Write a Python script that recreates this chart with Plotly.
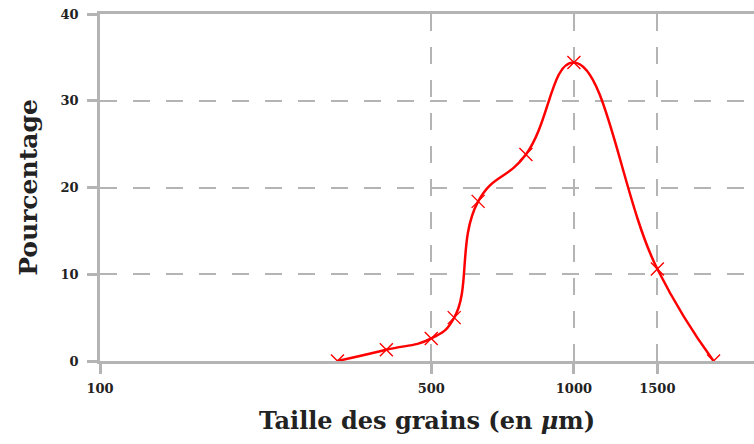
import plotly.graph_objects as go

# Grain size distribution (sieve analysis)
taille_um = [317, 402, 500, 559, 628, 792, 1000, 1500, 1971]
pourcentage = [0, 1.3, 2.6, 5.0, 18.4, 23.8, 34.4, 10.6, 0]

x_ticks = [100, 500, 1000, 1500]
y_ticks = [0, 10, 20, 30, 40]

GRAY = "#b4b4b4"
RED = "#ff0000"
FONT = "DejaVu Serif"

fig = go.Figure()
fig.add_trace(go.Scatter(
    x=taille_um,
    y=pourcentage,
    mode="lines+markers",
    line=dict(color=RED, width=2.5, shape="spline", smoothing=1.3),
    marker=dict(symbol="x-thin-open", size=13,
                line=dict(color=RED, width=1.4)),
    cliponaxis=True,
    showlegend=False,
))

fig.update_layout(
    width=754, height=444,
    margin=dict(l=100, r=0, t=14, b=83),
    paper_bgcolor="white",
    plot_bgcolor="white",
    font=dict(family=FONT, color="#222222"),
)

fig.update_xaxes(
    type="log",
    range=[2, 3.38],
    tickvals=x_ticks,
    ticktext=[f"<b>{v}</b>" for v in x_ticks],
    tickfont=dict(size=13, family=FONT),
    ticks="outside", ticklen=10, tickwidth=2.5, tickcolor=GRAY,
    ticklabelstandoff=4,
    showline=True, linecolor=GRAY, linewidth=2.5, mirror=True,
    showgrid=True, gridcolor=GRAY, gridwidth=2, griddash="17px,16px",
    zeroline=False,
    title=dict(text="<b>Taille des grains (en <i>μ</i>m)</b>",
               font=dict(size=24, family=FONT), standoff=17),
)

fig.update_yaxes(
    range=[0, 40],
    tickvals=y_ticks,
    ticktext=[f"<b>{v}</b>" for v in y_ticks],
    tickfont=dict(size=13, family=FONT),
    ticks="outside", ticklen=10, tickwidth=2.5, tickcolor=GRAY,
    ticklabelstandoff=6,
    showline=True, linecolor=GRAY, linewidth=2.5, mirror=False,
    showgrid=True, gridcolor=GRAY, gridwidth=2, griddash="17px,16px",
    zeroline=False,
    title=dict(text="<b>Pourcentage</b>",
               font=dict(size=25, family=FONT), standoff=16),
)

fig.write_html("out.html")
